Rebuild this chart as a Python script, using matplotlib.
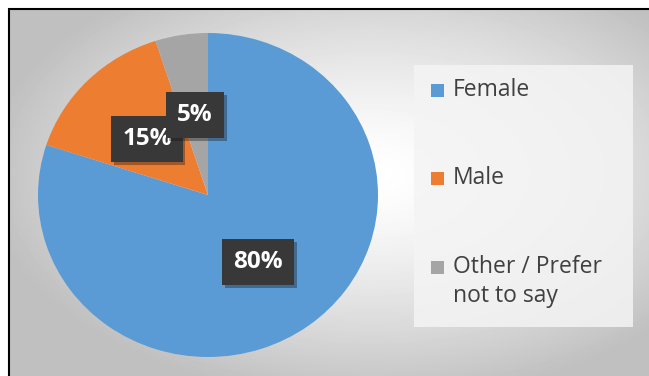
import numpy as np
import matplotlib.pyplot as plt
from matplotlib.patches import Rectangle
import matplotlib.patheffects as pe

labels = ['Female', 'Male', 'Other / Prefer\nnot to say']
shares = [80, 15, 5]
colors = ['#5B9BD5', '#ED7D31', '#A5A5A5']
pct_text = ['80%', '15%', '5%']

plt.rcParams['font.family'] = ['Open Sans', 'DejaVu Sans']

W, H = 649, 376
fig = plt.figure(figsize=(W / 100, H / 100), dpi=100)

# background: white outside, grey radial gradient inside the frame
bg = fig.add_axes([0, 0, 1, 1])
bg.axis('off')
yy, xx = np.mgrid[0:H + 4, 0:W + 4]
cx, cy = 0.56 * W, 0.44 * H
r = np.sqrt(((xx - cx) / (W * 0.6)) ** 2 + ((yy - cy) / (H * 0.6)) ** 2)
shade = 1.0 - 0.25 * np.clip(r, 0, 1) ** 1.4
bg.imshow(shade, cmap='gray', vmin=0, vmax=1, extent=(8, W + 12, H + 12, 8),
          aspect='auto', interpolation='nearest')
bg.set_xlim(0, W)
bg.set_ylim(H, 0)
bg.plot([8.5, 8.5, W + 5], [H + 5, 8.5, 8.5], color='black', lw=1.5,
        solid_joinstyle='miter')

# legend panel
bg.add_patch(Rectangle((414, 65), 219, 262, facecolor='#f4f4f4',
                       edgecolor='none', alpha=0.85))

# pie (slightly wider than tall, like the source image)
ax = fig.add_axes([38 / W, 1 - 357 / H, 340 / W, 324 / H])
ax.pie(shares, colors=colors, startangle=90, counterclock=False,
       wedgeprops=dict(linewidth=0))
ax.set_aspect('auto')
ax.set_xlim(-1, 1)
ax.set_ylim(-1, 1)

# overlay for labels and legend
top = fig.add_axes([0, 0, 1, 1])
top.set_xlim(0, W)
top.set_ylim(H, 0)
top.axis('off')

label_pos = [(258, 262), (147, 139), (195, 115)]
for txt, (px, py) in zip(pct_text, label_pos):
    t = top.text(px, py, txt, ha='center', va='center', color='white',
                 fontsize=17.5, fontweight='bold',
                 bbox=dict(boxstyle='square,pad=0.45', facecolor='#383838',
                           edgecolor='none'))
    t.get_bbox_patch().set_path_effects(
        [pe.SimplePatchShadow(offset=(2, -2), alpha=0.35), pe.Normal()])

leg_y = [90, 178, 267]
for lab, col, ly in zip(labels, colors, leg_y):
    top.add_patch(Rectangle((431, ly - 6), 13, 13, facecolor=col,
                            edgecolor='none'))
    top.text(453, ly - 12, lab, ha='left', va='top', color='#404040',
             fontsize=16.5, linespacing=1.25)

fig.savefig('out.png', dpi=100)
